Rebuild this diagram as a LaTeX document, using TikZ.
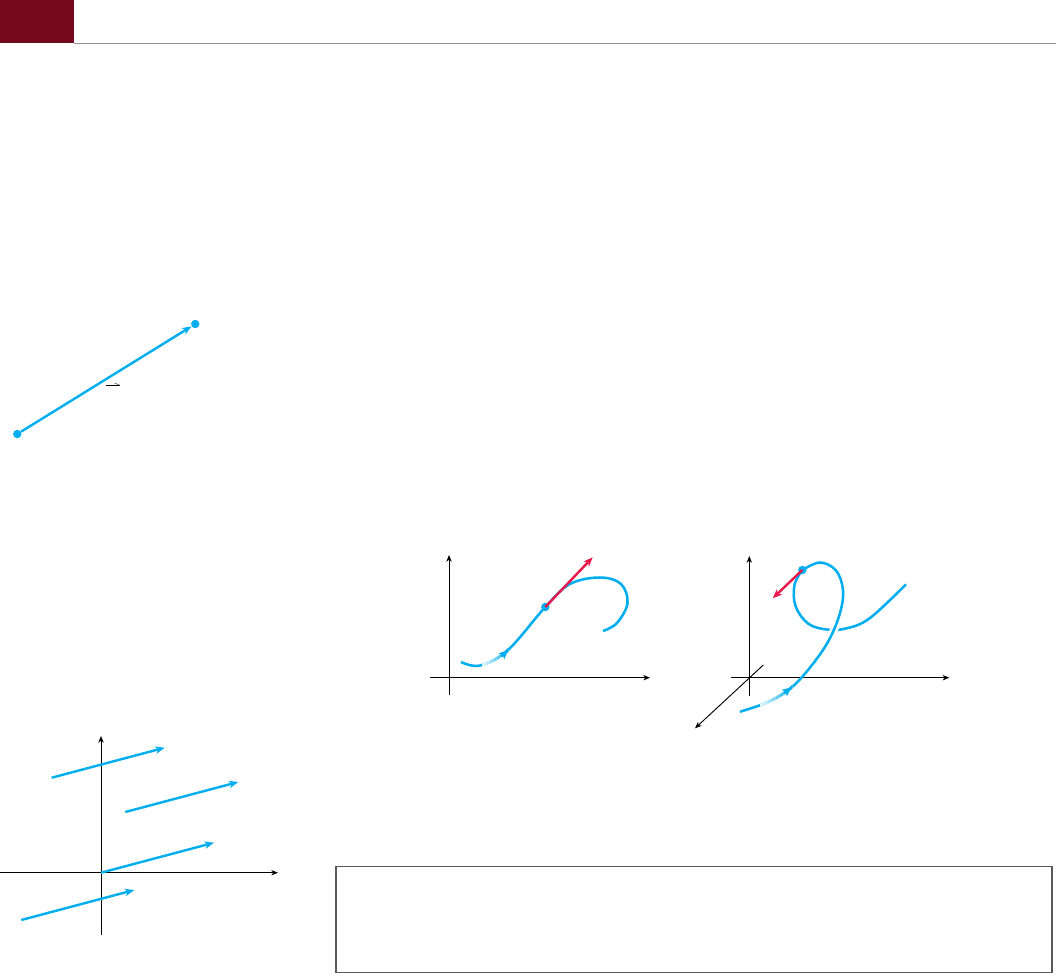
\documentclass[tikz,border=0pt]{standalone}
\usepackage{tikz}
\usetikzlibrary{arrows.meta}

\definecolor{headred}{RGB}{117,9,30}
\definecolor{curveblue}{RGB}{0,174,239}
\definecolor{tanred}{RGB}{232,24,74}
\definecolor{rulegray}{RGB}{150,150,150}
\definecolor{boxgray}{RGB}{90,90,90}

% the three curves, drawn with the options given
\newcommand{\midcurve}[1]{\draw[#1] plot[smooth, tension=0.6] coordinates {(461,662) (480,665.5) (508,650) (545.3,607) (570,584) (600,577.5) (621,584) (627.5,603) (617,623) (603,631)};}
\newcommand{\frontcurve}[1]{\draw[#1] plot[smooth, tension=0.6] coordinates {(740,711.7) (768,702) (791.7,687.3) (812,665) (829,640) (840,613) (843,590) (836,570.5) (820,562.5) (802.3,570)};}
\newcommand{\backcurve}[1]{\draw[#1] plot[smooth, tension=0.6] coordinates {(802.3,570) (794.5,585) (795.5,606) (808,623.5) (826.7,629.5) (846.7,628.3) (870,618) (906,584.3)};}

\begin{document}
\begin{tikzpicture}[
        x=0.75pt, y=-0.75pt,
        axis/.style={
            black,
            line width=0.7pt,
            -{Stealth[length=5pt, width=4pt, inset=1.5pt]}
        },
        vec/.style={
            curveblue,
            line width=1.8pt,
            -{Stealth[length=7pt, width=5.5pt, inset=2pt]}
        },
        tangent/.style={
            tanred,
            line width=1.8pt,
            -{Stealth[length=7pt, width=5.5pt, inset=2pt]}
        },
        curve/.style={
            curveblue,
            line width=1.9pt
        },
        dot/.style={
            circle,
            fill=curveblue,
            inner sep=0pt,
            minimum size=6.3pt
        }
    ]

    \useasboundingbox (0,0) rectangle (1056,975);

    % Cabecera

    \fill[headred] (0,0) rectangle (74,43);
    \draw[rulegray, line width=0.8pt] (74,43.3) -- (1056,43.3);

    % Segmento dirigido

    \node[dot] (start) at (17.3,434) {};
    \node[dot] (end) at (195.3,324) {};
    \draw[vec] (start) -- (end);
    \draw[black, line width=0.6pt] (106,385.3) -- (120,385.3);
    \draw[black!60, line width=0.5pt] (114.5,383) -- (120,385.3);

    % Vectores equivalentes

    \coordinate (bl-xl) at (0,872.7);
    \coordinate (bl-xr) at (278,872.7);
    \coordinate (bl-yb) at (101,935);
    \coordinate (bl-yt) at (101,736);
    \draw[axis] (bl-xl) -- (bl-xr);
    \draw[axis] (bl-yb) -- (bl-yt);

    \coordinate (v1) at (51.7,777.7);
    \coordinate (v2) at (125.3,812);
    \coordinate (v3) at (101,872.7);
    \coordinate (v4) at (21.3,920);
    \draw[vec] (v1) -- ++(113,-30);
    \draw[vec] (v2) -- ++(113,-30);
    \draw[vec] (v3) -- ++(113,-30);
    \draw[vec] (v4) -- ++(113,-30);

    % Curva plana

    \coordinate (m-xl) at (430,677.7);
    \coordinate (m-xr) at (650,677.7);
    \coordinate (m-yb) at (449,695);
    \coordinate (m-yt) at (449,555);
    \draw[axis] (m-xl) -- (m-xr);
    \draw[axis] (m-yb) -- (m-yt);

    \midcurve{curve}
    \foreach \i in {0,...,6} {
        \pgfmathtruncatemacro{\pct}{12+\i*14}
        \begin{scope}
            \clip (482+\i*3.8,640) rectangle (508.5,675);
            \midcurve{line width=1.9pt, color=curveblue!\pct!white}
        \end{scope}
    }
    \draw[vec, -{Stealth[length=7pt, width=6pt, inset=1.5pt]}]
        (501.6,656.2) -- (508.3,650);

    \coordinate (midtip) at (592.7,557.3);
    \node[dot] (midpt) at (545.3,607) {};
    \draw[tangent] (midpt.center) -- (midtip);

    % Curva en el espacio

    \coordinate (r-xl) at (730.7,677.7);
    \coordinate (r-xr) at (949.3,677.7);
    \coordinate (r-yb) at (749.3,695.7);
    \coordinate (r-yt) at (749.3,556);
    \coordinate (r-zb) at (763.3,665);
    \coordinate (r-zf) at (695,728.3);
    \draw[axis] (r-xl) -- (r-xr);
    \draw[axis] (r-yb) -- (r-yt);
    \draw[axis] (r-zb) -- (r-zf);

    \backcurve{curve}
    \frontcurve{curve}
    \begin{scope}
        \clip (824,614) rectangle (848,642);
        \frontcurve{curve, preaction={draw=white, line width=6pt}}
    \end{scope}
    \foreach \i in {0,...,7} {
        \pgfmathtruncatemacro{\pct}{12+\i*12}
        \begin{scope}
            \clip (760+\i*4,681) rectangle (792,716);
            \frontcurve{line width=1.9pt, color=curveblue!\pct!white}
        \end{scope}
    }
    \draw[vec, -{Stealth[length=7pt, width=6pt, inset=1.5pt]}]
        (784.3,693) -- (791.7,687.3);

    \coordinate (sptip) at (772.7,598.3);
    \node[dot] (sppt) at (802.3,570) {};
    \draw[tangent] (sppt.center) -- (sptip);

    % Recuadro inferior

    \draw[boxgray, line width=0.9pt] (336,866.5) rectangle (1052,972.5);

\end{tikzpicture}
\end{document}
